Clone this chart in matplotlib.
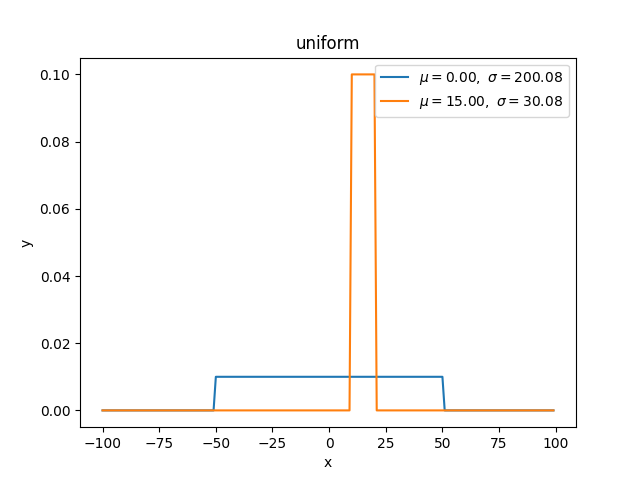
import matplotlib
matplotlib.use("Agg")
import matplotlib.pyplot as plt

# breakpoints of the two step-shaped densities (sampled at integer x)
x_blue = [-100, -51, -50, 50, 51, 99]
y_blue = [0.0, 0.0, 0.01, 0.01, 0.0, 0.0]

x_orange = [-100, 9, 10, 20, 21, 99]
y_orange = [0.0, 0.0, 0.1, 0.1, 0.0, 0.0]

labels = [r"$\mu=0.00,\ \sigma=200.08$", r"$\mu=15.00,\ \sigma=30.08$"]

fig, ax = plt.subplots(figsize=(6.4, 4.8), dpi=100)
ax.plot(x_blue, y_blue, label=labels[0])
ax.plot(x_orange, y_orange, label=labels[1])
ax.set_title("uniform")
ax.set_xlabel("x")
ax.set_ylabel("y")
ax.legend(loc="upper right")

fig.savefig("out.png")
